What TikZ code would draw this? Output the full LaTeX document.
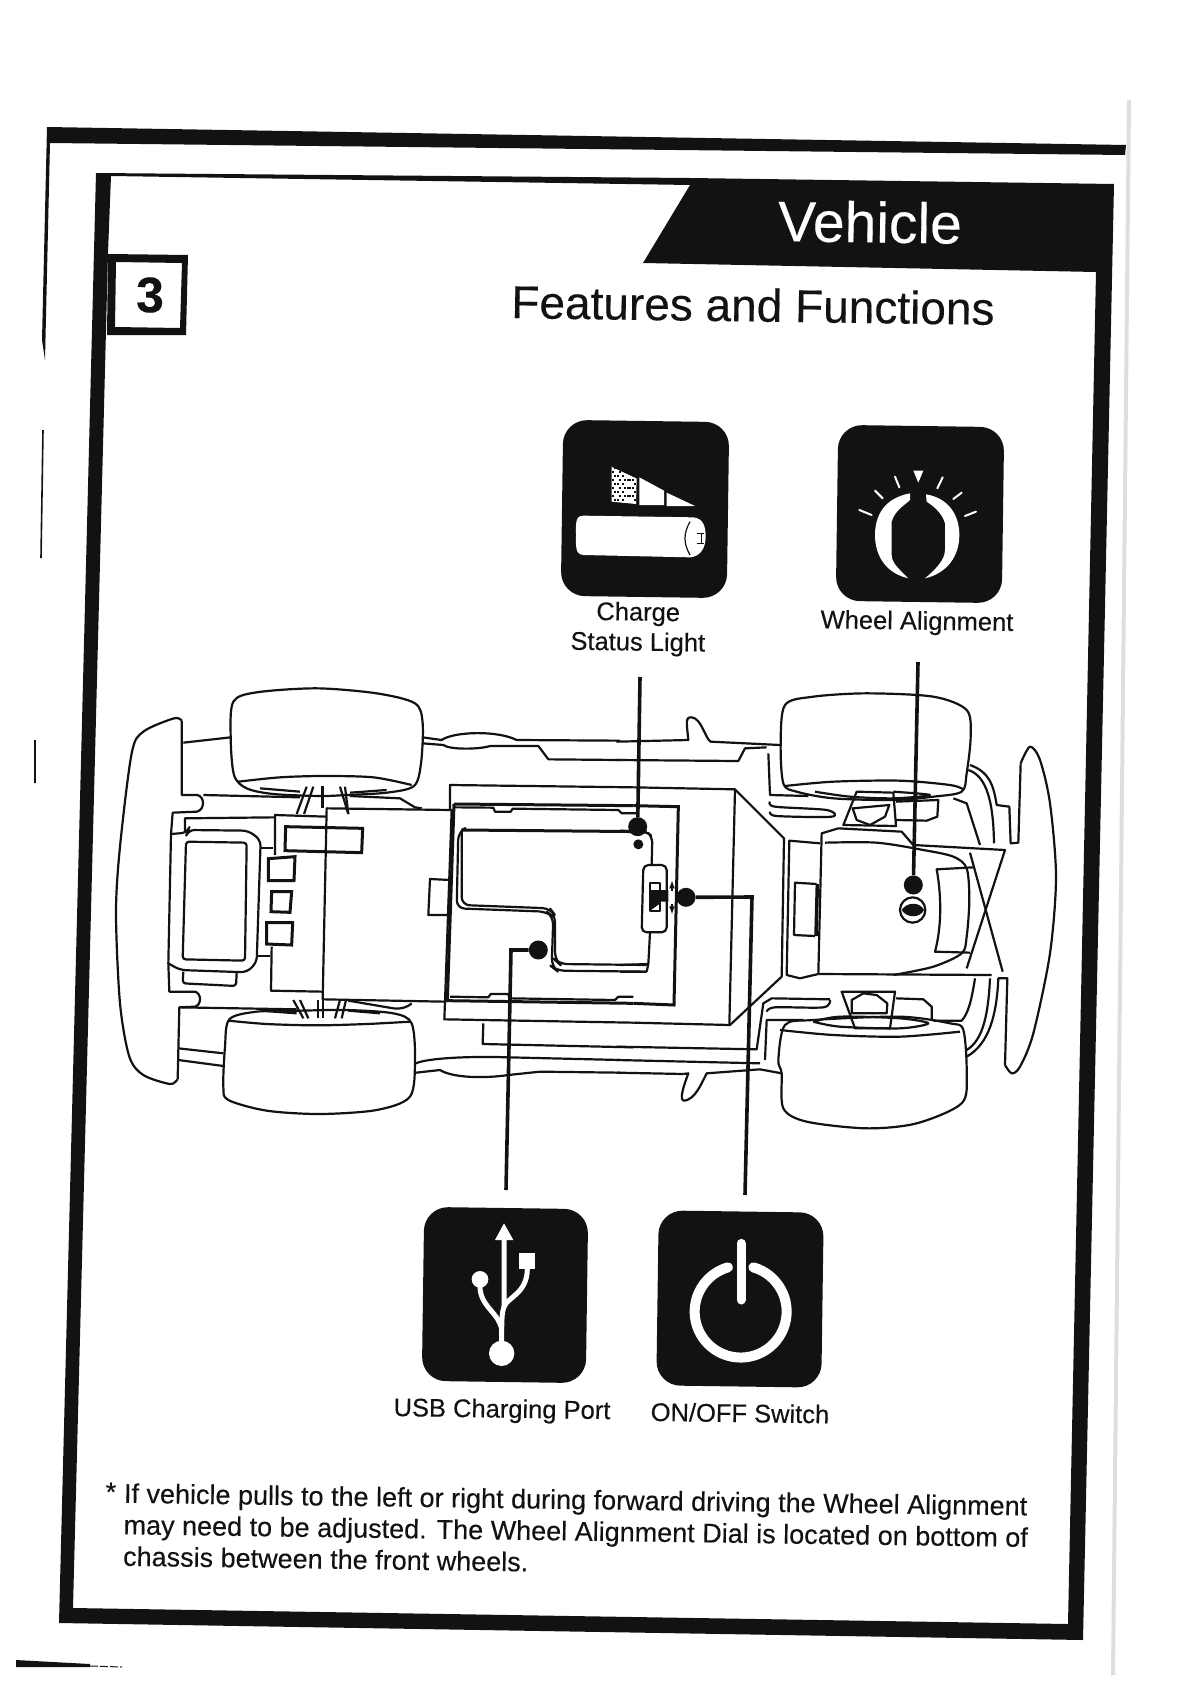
\documentclass[tikz,border=0pt]{standalone}
\usepackage{fontspec}
\setmainfont{Liberation Sans}[FakeBold=0.25]
\usetikzlibrary{positioning}
\definecolor{ink}{RGB}{18,18,18}
\definecolor{edge}{RGB}{222,222,222}
\tikzset{
  carline/.style={draw=ink,line width=2.2pt,line join=round},
  heavy/.style={draw=ink,line width=3pt},
  leader/.style={draw=ink,line width=3.6pt},
  pin/.style={circle,fill=ink,inner sep=0pt,minimum size=#1},
  pin/.default=19pt,
  iconbox/.style={fill=ink,rounded corners=24pt,inner sep=0pt,rotate=-0.8},
  lbl/.style={font=\fontsize{25.5}{30}\selectfont,text=ink,align=center,rotate=-0.8,inner sep=0pt},
  glyph/.style={draw=white,line width=5pt,line cap=round,line join=round},
  carleft/.style={shift={(100,660)},scale=1/3},
  carright/.style={shift={(600,660)},scale=1/3},
  upicons/.style={shift={(540,400)},scale=1/3},
  lowicons/.style={shift={(400,1190)},scale=1/3},
}
\begin{document}
\begin{tikzpicture}[x=1pt,y=-1pt]
  \useasboundingbox (0,0) rectangle (1190,1683);
  % page frames
  \fill[edge] (1127,100) -- (1131,100) -- (1115,1675) -- (1111,1675) -- cycle;
  \fill[ink] (47,127) -- (1126,145) -- (1125,155) -- (50,143) -- (45,360) -- (42,340) -- cycle;
  \draw[ink,line width=1.6pt] (43,430) -- (41,558) (35,740) -- (35,783);
  \fill[ink,even odd rule] (96,173) -- (690,178) -- (1114,184) -- (1083,1640) -- (59,1623) -- cycle
    (111,176) -- (690,185) -- (643,263) -- (1096,272) -- (1068,1624) -- (73,1608) -- (108,253) -- cycle;
  \fill[ink,even odd rule] (108,254) -- (188,255) -- (186,335) -- (107,335) -- cycle
    (116,262) -- (182,263) -- (180,328) -- (115,327) -- cycle;
  \fill[ink] (16,1660) -- (90,1664) -- (90,1667) -- (16,1667) -- cycle;
  \draw[ink,line width=1pt,dash pattern=on 8pt off 2pt] (90,1666) -- (122,1667);

  \node[font=\fontsize{50}{50}\bfseries,text=ink,inner sep=0pt] (pagenum) at (150,295) {3};
  \node[font=\fontsize{57}{57}\selectfont,text=white,rotate=-0.8,inner sep=0pt] (vehicle) at (870,222) {Vehicle};
  \node[font=\fontsize{46}{46}\selectfont,text=ink,rotate=-0.8,inner sep=0pt] (features) at (753,305) {Features and Functions};

  % rear half of the car
  \begin{scope}[carleft]
    \draw[carline] plot[smooth] coordinates {(245,182) (222,175) (130,215) (95,280) (60,560) (48,760) (60,1030) (88,1190) (130,1245) (210,1272) (232,1258)};
    \draw[carline] (245,182) -- (245,405) -- (292,405) .. controls (315,410) and (315,450) .. (290,455) -- (218,458) -- (213,522) -- (205,910) -- (208,995) -- (285,995) .. controls (305,1000) and (305,1035) .. (285,1040) -- (238,1042) -- (233,1258);
    % wheels
    \draw[carline] plot[smooth cycle] coordinates {(400,125) (470,97) (650,85) (830,100) (945,130) (968,190) (963,310) (942,378) (860,398) (740,405) (660,408) (520,402) (440,385) (402,345) (392,230)};
    \draw[carline] plot[smooth] coordinates {(415,365) (540,352) (670,348) (820,352) (935,375)};
    \draw[carline] plot[smooth] coordinates {(385,1082) (500,1092) (650,1096) (800,1092) (930,1085)};
    \draw[carline] plot[smooth cycle] coordinates {(388,1078) (470,1055) (600,1052) (740,1050) (880,1060) (935,1090) (945,1200) (930,1310) (830,1350) (660,1362) (500,1352) (385,1320) (370,1280) (375,1160)};
    \draw[carline] (480,385) -- (600,395) (750,398) -- (860,390) (480,1052) -- (590,1060) (745,1052) -- (840,1060);
    % axle arms
    \foreach \xa/\xb in {620/590,640/612,720/745,735/745}
      \draw[carline] (\xa,380) -- (\xb,462);
    \draw[heavy] (668,378) -- (668,445);
    \foreach \xa/\xb in {580/610,600/625,655/655,668/668,720/705,738/725}
      \draw[carline] (\xa,1020) -- (\xb,1075);
    % sills
    \draw[carline] (250,248) -- (392,232) (235,1165) -- (370,1180) (235,1200) -- (370,1218);
    \draw[carline] (968,232) -- (1025,240) .. controls (1060,215) and (1190,210) .. (1250,240) -- (1560,242);
    \draw[carline] (968,250) -- (1030,255) .. controls (1050,270) and (1140,268) .. (1170,258) -- (1315,258) -- (1345,298) -- (1560,300);
    \draw[carline] (948,1210) .. controls (980,1195) and (1100,1188) .. (1225,1192) -- (1560,1200);
    \draw[carline] (948,1238) -- (1020,1230) .. controls (1060,1255) and (1160,1255) .. (1225,1245) -- (1320,1235) -- (1560,1238);
    \draw[carline] (310,405) -- (600,412) (750,408) -- (900,415) -- (945,442) -- (965,445);
    \draw[carline] (238,1042) -- (590,1048);
    \draw[carline] (745,1022) -- (880,1045) .. controls (905,1048) and (925,1040) .. (935,1030);
    % rear box and motor
    \draw[carline] (255,515) -- (255,475) -- (525,472);
    \draw[carline,rounded corners=6pt] (213,522) -- (262,518) -- (265,510) -- (445,512) -- (482,540) -- (470,908) -- (440,937) -- (240,930) -- (205,910);
    \draw[carline,rounded corners=3pt] (258,545) -- (440,548) -- (435,902) -- (248,898) -- cycle;
    \draw[carline,rounded corners=3pt] (250,935) -- (248,970) -- (408,978) -- (410,938);
    \draw[carline] (482,565) -- (520,565) (475,888) -- (510,888);
    \draw[carline] (525,585) -- (525,465) -- (680,470);
    \draw[carline] (680,445) -- (1055,450) -- (1035,1025) -- (668,1018) -- cycle;
    \draw[heavy] (557,500) -- (788,505) -- (785,578) -- (555,572) -- cycle;
    \draw[heavy] (505,596) -- (585,590) -- (582,662) -- (505,662) -- cycle;
    \draw[heavy] (515,695) -- (575,695) -- (570,757) -- (513,755) -- cycle;
    \draw[heavy] (500,788) -- (578,788) -- (575,855) -- (500,852) -- cycle;
    \draw[carline] (515,860) -- (513,992) -- (668,995);
    \draw[carline] (990,657) -- (1050,660) -- (1045,765) -- (985,765) -- cycle;
    % tray
    \draw[heavy] (1062,432) -- (1042,1022) -- (1600,1030);
    \draw[heavy] (1062,432) -- (1600,437);
    \draw[carline] (1065,442) -- (1180,443) -- (1185,455) -- (1232,455) -- (1238,446) -- (1555,450) -- (1565,460) -- (1610,460);
    \draw[carline] (1050,1010) -- (1165,1012) -- (1172,1002) -- (1225,1002) -- (1228,1015) -- (1545,1020) -- (1555,1010) -- (1600,1010);
    \draw[heavy] (1085,510) -- (1640,515);
    \draw[carline,rounded corners=8pt] (1085,510) -- (1075,515) -- (1070,745) -- (1340,755) -- (1360,770) -- (1355,920) -- (1370,932) -- (1640,935);
    \draw[carline,rounded corners=8pt] (1085,510) -- (1085,735) -- (1350,745) -- (1365,765) -- (1365,900) -- (1378,912) -- (1640,915);
    % body lines going on past the middle
    \draw[carline] (1050,450) -- (1050,375) -- (1600,382);
    \draw[carline] (1035,1025) -- (1033,1078) -- (1600,1088);
    \draw[carline] (1150,1090) -- (1148,1152) -- (1600,1162);
    \node[pin] (usbdot) at (1315,870) {};
  \end{scope}

  % front half of the car
  \begin{scope}[carright]
    \draw[carline] (50,245) -- (265,240) .. controls (260,190) and (255,170) .. (275,172) .. controls (305,175) and (315,235) .. (332,245) -- (540,255);
    \draw[carline] (50,300) -- (415,303) -- (435,265) -- (500,262);
    \draw[carline] (100,382) -- (405,388) -- (552,535) -- (545,950) -- (390,1095) -- (100,1088);
    \draw[carline] (405,388) -- (388,1095);
    \draw[heavy] (100,437) -- (235,440) -- (222,1035) -- (100,1030);
    \draw[carline,rounded corners=6pt] (60,512) -- (140,515) -- (157,530) -- (155,612);
    \draw[carline] (150,818) -- (145,912) -- (60,915) (140,935) -- (60,935) (145,912) -- (140,935);
    % switch
    \draw[carline,rounded corners=5pt] (130,615) -- (200,615) -- (200,817) -- (125,817) -- cycle;
    \draw[carline] (150,670) -- (180,670) -- (180,752) -- (150,752) -- cycle;
    \fill[ink] (150,690) -- (205,690) -- (205,725) -- (178,725) -- (178,732) -- (150,752) -- cycle;
    \draw[ink,line width=1.6pt,-latex] (216,692) -- (216,662);
    \draw[ink,line width=1.6pt,-latex] (216,732) -- (216,762);
    \node[pin=10pt] (lightdot) at (115,553) {};
    % wheels
    \draw[carline] plot[smooth cycle] coordinates {(555,135) (640,110) (800,100) (1000,110) (1100,150) (1112,230) (1100,340) (1085,395) (1000,410) (880,420) (700,415) (590,395) (550,370) (542,250)};
    \draw[carline] plot[smooth] coordinates {(555,378) (700,365) (900,362) (1050,375) (1090,388)};
    \draw[carline] plot[smooth] coordinates {(645,395) (750,410) (880,415) (990,405) (880,395)};
    \draw[carline] plot[smooth cycle] coordinates {(555,1095) (640,1080) (900,1070) (1050,1090) (1090,1110) (1100,1240) (1085,1330) (950,1390) (800,1405) (620,1385) (550,1345) (545,1240) (535,1200)};
    \draw[carline] plot[smooth] coordinates {(540,1110) (700,1125) (900,1130) (1080,1115)};
    \draw[carline] plot[smooth] coordinates {(640,1085) (720,1070) (900,1075) (985,1090) (900,1105) (720,1100) (640,1085)};
    % bumper
    \draw[carline] plot[smooth] coordinates {(1262,310) (1290,260) (1320,300) (1350,430) (1368,650) (1350,880) (1300,1120) (1260,1220) (1235,1240) (1215,1215)};
    \draw[carline] (1262,310) -- (1255,548) -- (1232,550) -- (1228,440) -- (1190,435) .. controls (1180,370) and (1165,335) .. (1110,315);
    \draw[carline] (1215,1215) -- (1222,955) -- (1195,955) .. controls (1190,1060) and (1170,1150) .. (1100,1190);
    \draw[carline] (1105,330) .. controls (1150,345) and (1180,400) .. (1182,550);
    \draw[carline] (1170,955) .. controls (1165,1060) and (1150,1140) .. (1100,1170);
    \draw[carline] (1125,955) .. controls (1115,1020) and (1105,1060) .. (1085,1082) -- (1000,1082);
    \draw[carline] (1060,415) -- (1100,430) -- (1140,555);
    % front cover
    \draw[carline] (660,550) -- (568,542) -- (560,945) -- (600,955) -- (655,942);
    \draw[carline] (655,942) -- (665,520) -- (715,505) -- (905,515) -- (940,555) -- (1215,570) -- (1100,925);
    \draw[carline] (655,942) -- (1175,945) (1110,578) -- (1208,935);
    \draw[carline] plot[smooth] coordinates {(675,548) (830,548) (970,570) (1060,590) (1100,625) (1108,720) (1100,830) (1085,880) (1000,920) (880,945)};
    \draw[carline] (1120,622) -- (1010,628) .. controls (1025,710) and (1025,800) .. (1005,875) -- (1110,878);
    \draw[carline] (650,672) -- (585,668) -- (582,825) -- (645,828);
    \draw[ink,line width=3.5pt] (652,672) -- (648,828);
    % steering links
    \draw[carline] (730,495) -- (770,395) -- (880,398) -- (888,498) -- cycle;
    \draw[carline] (758,445) -- (868,435) -- (855,470) -- (810,495) -- (770,480) -- cycle;
    \draw[carline] (888,425) -- (1015,420) -- (1012,470) -- (980,482) -- (888,480);
    \draw[carline] (725,995) -- (885,995) -- (870,1105) -- (765,1105) -- cycle;
    \draw[carline] (755,1060) -- (755,1020) -- (790,1000) -- (830,1005) -- (862,1030) -- (860,1060) -- cycle;
    \draw[carline] (888,1015) -- (970,1018) -- (995,1040) -- (995,1080);
    % side pockets
    \draw[carline] (505,280) -- (510,405) -- (625,408);
    \draw[carline] plot[smooth] coordinates {(510,425) (525,440) (680,450) (695,470) (530,468) (510,455)};
    \draw[carline] (50,1160) -- (470,1168) -- (490,1030) -- (515,1015) -- (690,1018);
    \draw[carline] (495,1200) -- (500,1080) -- (610,1080);
    \draw[carline] plot[smooth] coordinates {(500,1055) (525,1042) (670,1042) (690,1020)};
    \draw[carline] (50,1200) -- (480,1210) (50,1238) -- (250,1242);
    \draw[carline] (250,1242) -- (265,1240) .. controls (250,1280) and (235,1325) .. (255,1322) .. controls (285,1315) and (300,1280) .. (320,1240) -- (480,1228) -- (545,1240);
    % wheel alignment dial
    \draw[carline] (938,750) circle (38);
    \fill[ink] (905,750) .. controls (920,725) and (960,725) .. (972,750) .. controls (960,775) and (920,775) .. (905,750) -- cycle;
    \node[pin] (chargedot) at (113,500) {};
    \node[pin] (switchdot) at (258,712) {};
    \node[pin] (aligndot) at (940,675) {};
  \end{scope}

  % icons
  \node[iconbox,minimum width=166pt,minimum height=176pt] (chargeicon) at (645,509) {};
  \node[iconbox,minimum width=166pt,minimum height=176pt] (alignicon) at (920,514) {};
  \node[iconbox,minimum width=164pt,minimum height=174pt] (usbicon) at (505,1295) {};
  \node[iconbox,minimum width=165pt,minimum height=175pt] (switchicon) at (740,1299) {};

  \begin{scope}[upicons]
    \fill[white] (215,200) -- (290,235) -- (288,312) -- (215,305) -- cycle;
    % speckle on the first bar
    \foreach \k in {0,...,89}{
      \pgfmathtruncatemacro{\r}{\k/10}\pgfmathtruncatemacro{\c}{mod(\k*7,10)}\pgfmathtruncatemacro{\h}{mod(\k*13,4)}
      \ifnum\h>1 \fill[ink] (215+\c*7.5,200+\r*12) rectangle ++(6,6); \fi
    }
    \fill[ink] (215,200) -- (290,235) -- (290,200) -- cycle;
    \fill[white] (298,232) -- (372,272) -- (372,315) -- (298,315) -- cycle (380,278) -- (465,318) -- (380,318) -- cycle;
    \fill[white] (130,347) -- (460,352) .. controls (490,355) and (497,380) .. (497,410) .. controls (497,445) and (480,470) .. (450,472) -- (130,465) .. controls (105,462) and (108,440) .. (108,405) .. controls (108,370) and (105,348) .. (130,347) -- cycle;
    \draw[ink,line width=1.2pt] (450,365) .. controls (430,400) and (430,430) .. (450,465);
    \draw[ink,line width=1.2pt] (470,400) -- (492,400) (470,430) -- (492,430) (484,400) -- (484,430);
    % dial
    \fill[white] (1110,280) .. controls (1030,295) and (1005,350) .. (1005,405) .. controls (1005,470) and (1040,520) .. (1105,535) .. controls (1080,510) and (1055,490) .. (1055,465) -- (1055,365) .. controls (1065,330) and (1095,315) .. (1110,300) -- cycle;
    \fill[white] (1158,283) .. controls (1230,295) and (1258,350) .. (1258,405) .. controls (1258,470) and (1220,520) .. (1155,535) .. controls (1185,510) and (1215,480) .. (1215,450) -- (1215,370) .. controls (1205,335) and (1175,315) .. (1160,305) -- cycle;
    \foreach \xa/\ya/\xb/\yb in {958/330/995/345,1005/272/1028/295,1065/230/1078/262,1208/232/1192/265,1265/278/1240/297,1308/335/1275/348}
      \draw[white,line width=2pt,line cap=round] (\xa,\ya) -- (\xb,\yb);
    \fill[white] (1120,212) -- (1150,212) -- (1135,248) -- cycle;
  \end{scope}

  \begin{scope}[lowicons]
    \draw[glyph] (312,130) -- (312,350) .. controls (305,370) and (305,390) .. (305,470);
    \draw[glyph] (240,290) .. controls (240,350) and (300,370) .. (305,420);
    \draw[glyph] (382,235) .. controls (382,310) and (325,320) .. (312,350);
    \fill[white] (312,100) -- (340,150) -- (285,150) -- cycle;
    \fill[white] (305,490) circle (38);
    \fill[white] (240,268) circle (25);
    \fill[white] (358,188) rectangle (405,238);
    % power sign
    \draw[white,line width=10pt,line cap=round] (1060,232) arc (-74:254:138);
    \draw[white,line width=9pt,line cap=round] (1023,160) -- (1023,330);
  \end{scope}

  \node[lbl] (chargelabel) at (638,629) {Charge\\Status Light};
  \node[lbl] (alignlabel) at (917,623) {Wheel Alignment};
  \node[lbl] (usblabel) at (502,1411) {USB Charging Port};
  \node[lbl] (switchlabel) at (740,1413) {ON/OFF Switch};

  % leaders
  \coordinate (chargetop) at (640,677);
  \coordinate (aligntop) at (918,662);
  \coordinate (usbbend) at (511,950);
  \coordinate (usbend) at (506,1190);
  \coordinate (switchbend) at (752,897);
  \coordinate (switchend) at (745,1195);
  \draw[leader] (chargetop) -- (chargedot);
  \draw[leader] (aligntop) -- (aligndot);
  \draw[leader] (usbend) -- (usbbend) -- (usbdot);
  \draw[leader] (switchend) -- (switchbend) -- (switchdot);

  % note
  \node[font=\fontsize{27}{30}\selectfont,text=ink,inner sep=0pt] (star) at (111,1492) {*};
  \node[lbl,font=\fontsize{27}{31.5}\selectfont,anchor=north west,align=left] (note) at (124,1483) {If vehicle pulls to the left or right during forward driving the Wheel Alignment\\may need to be adjusted. The Wheel Alignment Dial is located on bottom of\\chassis between the front wheels.};
\end{tikzpicture}
\end{document}
